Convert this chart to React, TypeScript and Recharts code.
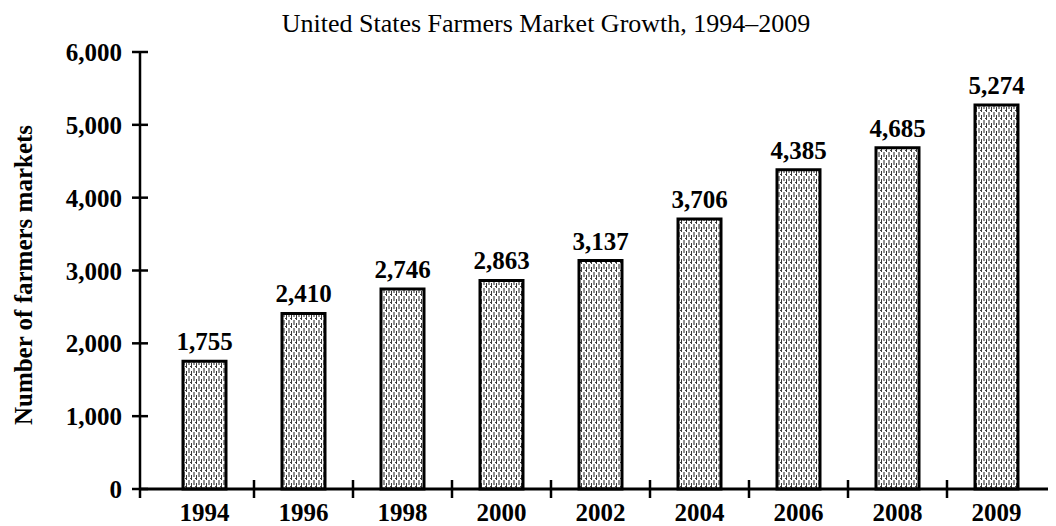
import React from 'react';
import { BarChart, Bar, XAxis, YAxis, LabelList } from 'recharts';

const years = ['1994', '1996', '1998', '2000', '2002', '2004', '2006', '2008', '2009'];
const marketCounts = [1755, 2410, 2746, 2863, 3137, 3706, 4385, 4685, 5274];
const yTicks = [0, 1000, 2000, 3000, 4000, 5000, 6000];

const title = 'United States Farmers Market Growth, 1994\u20132009';
const yLabel = 'Number of farmers markets';

const data = years.map((year, i) => ({ year, markets: marketCounts[i] }));

const W = 1048;
const H = 518;
const FONT = '"Liberation Serif", "DejaVu Serif", serif';
const fmt = (v: number) => Number(v).toLocaleString('en-US');

// y tick: label on the left, tick mark crossing the axis
const YTick = (props: any) => {
  const { x, y, payload } = props;
  return (
    <g>
      <line x1={x - 8} x2={x + 8} y1={y} y2={y} stroke="#000" strokeWidth={2.5} />
      <text x={x - 18} y={y} dy="0.36em" textAnchor="end"
        fontFamily={FONT} fontWeight="bold" fontSize={25} fill="#000">
        {fmt(payload.value)}
      </text>
    </g>
  );
};

// x tick: year at the band centre, tick mark at the band's left edge
const XTick = (props: any) => {
  const { x, y, payload, index } = props;
  const half = payload.offset || 49.5;
  return (
    <g>
      {index > 0 && (
        <line x1={x - half} x2={x - half} y1={y - 9} y2={y + 9} stroke="#000" strokeWidth={2.5} />
      )}
      {index === 0 && (
        <line x1={x - half - 15} x2={x - half - 15} y1={y} y2={y + 9} stroke="#000" strokeWidth={2.5} />
      )}
      <text x={x} y={y + 32} textAnchor="middle"
        fontFamily={FONT} fontWeight="bold" fontSize={25} fill="#000">
        {payload.value}
      </text>
    </g>
  );
};

export default function App() {
  return (
    <div style={{ position: 'relative', width: W, height: H }}>
      <svg width={W} height={H} style={{ position: 'absolute', left: 0, top: 0 }}>
        <defs>
          <pattern id="speckle" width="5" height="8" patternUnits="userSpaceOnUse">
            <rect width="5" height="8" fill="#fff" />
            <line x1="1" y1="0" x2="1" y2="5" stroke="#222" strokeWidth="1" />
            <line x1="3.5" y1="3" x2="3.5" y2="8" stroke="#222" strokeWidth="0.9" />
            <rect x="2" y="6" width="1" height="1" fill="#444" />
          </pattern>
        </defs>
        <text x={538} y={24} textAnchor="middle" fontFamily={FONT} fontSize={26} fill="#000">
          {title}
        </text>
        <text x={24} y={267} textAnchor="middle" transform="rotate(-90, 24, 267)"
          fontFamily={FONT} fontWeight="bold" fontSize={25} fill="#000">
          {yLabel}
        </text>
      </svg>
      <div style={{ position: 'absolute', left: 0, top: 0 }}>
        <BarChart width={W} height={H} data={data}
          margin={{ top: 44, right: 6, bottom: 7, left: 0 }}>
          <XAxis dataKey="year" height={30} padding={{ left: 15, right: 4 }}
            axisLine={{ stroke: '#000', strokeWidth: 3 }} tickLine={false}
            tickSize={0} tickMargin={0} tick={<XTick />} interval={0} />
          <YAxis width={132} domain={[0, 6000]} ticks={yTicks} type="number"
            axisLine={{ stroke: '#000', strokeWidth: 2.5 }} tickLine={false}
            tickSize={0} tickMargin={0} tick={<YTick />} interval={0} />
          <Bar dataKey="markets" barSize={43} fill="url(#speckle)" stroke="#000"
            strokeWidth={3} isAnimationActive={false}>
            <LabelList dataKey="markets" position="top" offset={11} formatter={fmt as any}
              fontFamily={FONT} fontWeight="bold" fontSize={25} fill="#000" />
          </Bar>
        </BarChart>
      </div>
    </div>
  );
}
